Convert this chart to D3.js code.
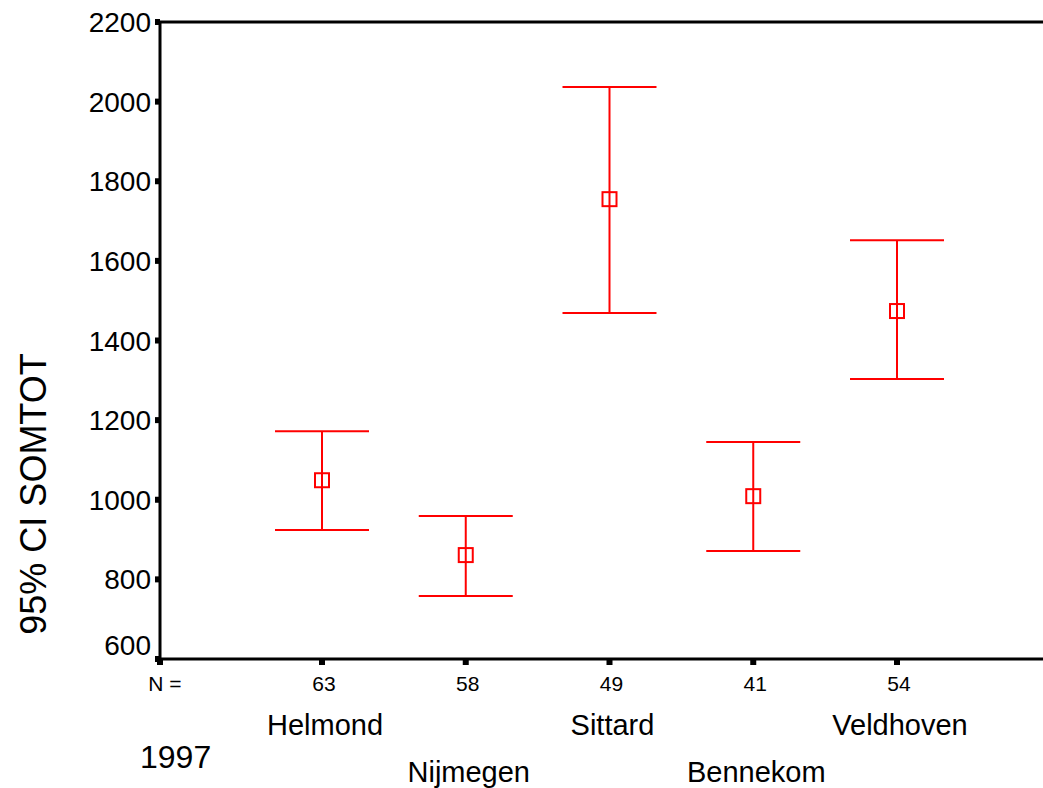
<!DOCTYPE html>
<html>
<head>
<meta charset="utf-8">
<script src="https://cdn.jsdelivr.net/npm/d3@7"></script>
<style>
  body { margin: 0; background: #fff; }
  text { font-family: "Liberation Sans", Arial, sans-serif; fill: #000; }
</style>
</head>
<body>
<div id="chart"></div>
<script>
// data
var sites = ["Helmond", "Nijmegen", "Sittard", "Bennekom", "Veldhoven"];
var counts = [63, 58, 49, 41, 54];
var means = [1049, 861, 1755, 1009, 1474];
var lower = [924, 758, 1469, 871, 1303];
var upper = [1172, 959, 2037, 1145, 1652];
var yTicks = [600, 800, 1000, 1200, 1400, 1600, 1800, 2000, 2200];
var yearLabel = "1997";
var yTitle = "95% CI SOMTOT";

var width = 1043, height = 788;
var plotLeft = 160, plotTop = 22, plotBottom = 659;

var svg = d3.select("#chart").append("svg")
    .attr("width", width)
    .attr("height", height);

var y = d3.scaleLinear().domain([600, 2200]).range([plotBottom, plotTop]);
var x = d3.scalePoint().domain(sites).range([322, 897]);

/* frame: left axis, top line, bottom axis */
svg.append("line").attr("x1", plotLeft).attr("x2", plotLeft).attr("y1", plotTop - 1).attr("y2", plotBottom + 1)
    .attr("stroke", "black").attr("stroke-width", 3);
svg.append("line").attr("x1", plotLeft).attr("x2", width).attr("y1", plotTop).attr("y2", plotTop)
    .attr("stroke", "black").attr("stroke-width", 3);
svg.append("line").attr("x1", plotLeft).attr("x2", width).attr("y1", plotBottom).attr("y2", plotBottom)
    .attr("stroke", "black").attr("stroke-width", 3);

// y ticks are little squares left of the axis
var yt = svg.selectAll(".ytick").data(yTicks).enter().append("g").attr("class", "ytick");
yt.append("rect")
    .attr("x", plotLeft - 5).attr("y", function(d){ return y(d) - 3; })
    .attr("width", 5).attr("height", 6).attr("fill", "black");
// lowest label sits a bit higher so it clears the N row
yt.append("text")
    .attr("x", plotLeft - 9)
    .attr("y", function(d, i){ return i == 0 ? y(d) - 4 : y(d) + 10; })
    .attr("text-anchor", "end").attr("font-size", 28)
    .text(function(d){ return d; });

svg.append("text")
    .attr("transform", "translate(46,494) rotate(-90)")
    .attr("text-anchor", "middle").attr("font-size", 36)
    .text(yTitle);

// x ticks
svg.append("rect").attr("x", plotLeft - 3).attr("y", plotBottom).attr("width", 6).attr("height", 6).attr("fill", "black");
svg.selectAll(".xtick").data(sites).enter().append("rect")
    .attr("x", function(d){ return x(d) - 3; }).attr("y", plotBottom)
    .attr("width", 6).attr("height", 6).attr("fill", "black");

svg.append("text").attr("x", 165).attr("y", 691).attr("text-anchor", "middle")
    .attr("font-size", 21).text("N =");
svg.selectAll(".nlab").data(sites).enter().append("text")
    .attr("x", function(d){ return x(d) + 2; }).attr("y", 691)
    .attr("text-anchor", "middle").attr("font-size", 21)
    .text(function(d, i){ return counts[i]; });

// category names staggered on two rows
svg.selectAll(".clab").data(sites).enter().append("text")
    .attr("x", function(d){ return x(d) + 3; })
    .attr("y", function(d, i){ return i % 2 == 0 ? 735 : 782; })
    .attr("text-anchor", "middle").attr("font-size", 29)
    .text(function(d){ return d; });

svg.append("text").attr("x", 140).attr("y", 768).attr("font-size", 32).text(yearLabel);

/* error bars */
var red = "#ff0000";
var cap = 47;
var bars = svg.selectAll(".bar").data(sites).enter().append("g").attr("class", "bar");
bars.append("line")
    .attr("x1", function(d){ return x(d); }).attr("x2", function(d){ return x(d); })
    .attr("y1", function(d, i){ return y(upper[i]); })
    .attr("y2", function(d, i){ return y(lower[i]); })
    .attr("stroke", red).attr("stroke-width", 2);
bars.append("line")
    .attr("x1", function(d){ return x(d) - cap; }).attr("x2", function(d){ return x(d) + cap; })
    .attr("y1", function(d, i){ return y(upper[i]); })
    .attr("y2", function(d, i){ return y(upper[i]); })
    .attr("stroke", red).attr("stroke-width", 2);
bars.append("line")
    .attr("x1", function(d){ return x(d) - cap; }).attr("x2", function(d){ return x(d) + cap; })
    .attr("y1", function(d, i){ return y(lower[i]); })
    .attr("y2", function(d, i){ return y(lower[i]); })
    .attr("stroke", red).attr("stroke-width", 2);
bars.append("rect")
    .attr("x", function(d){ return x(d) - 7; })
    .attr("y", function(d, i){ return y(means[i]) - 7; })
    .attr("width", 14).attr("height", 14)
    .attr("fill", "none").attr("stroke", red).attr("stroke-width", 2);
</script>
</body>
</html>
